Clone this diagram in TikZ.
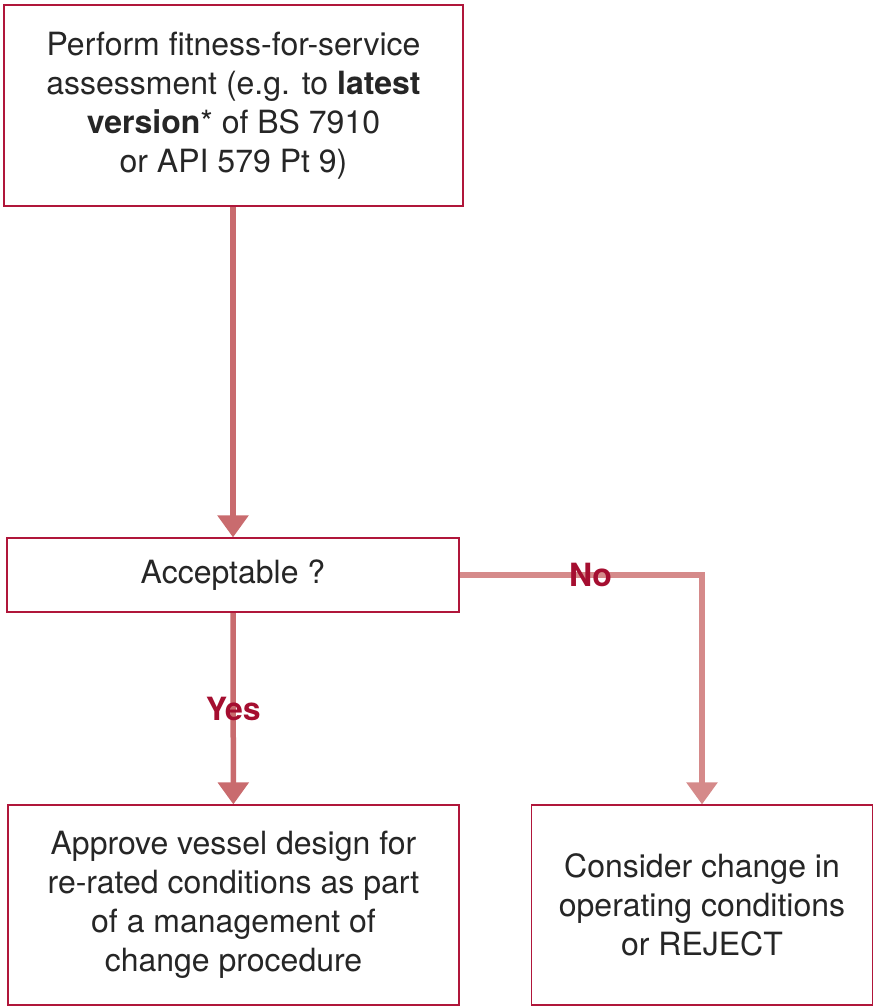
\documentclass[tikz,border=0pt]{standalone}
\usepackage{fontspec}
\setmainfont{TeX Gyre Heros}
\usetikzlibrary{arrows.meta}
\pgfdeclarelayer{edgelayer}
\pgfdeclarelayer{nodelayer}
\pgfsetlayers{edgelayer,nodelayer,main}
\definecolor{boxred}{HTML}{B0163A}
\definecolor{arrowred}{HTML}{C96B6E}
\definecolor{palered}{HTML}{D58A8A}
\definecolor{labelred}{HTML}{A50E30}
\tikzstyle{stage}=[rectangle,draw=boxred,line width=1.2pt,fill=white,align=center,inner sep=0pt,font=\fontsize{32}{39}\selectfont,text=black!85]
\tikzstyle{flow}=[-{Triangle[width=30pt,length=22pt]},draw=arrowred,line width=5.5pt]
\tikzstyle{answer}=[text=labelred,font=\fontsize{32}{34}\selectfont\bfseries]

\begin{document}
\begin{tikzpicture}[x=1pt,y=1pt]
	\useasboundingbox (0,0) rectangle (876,-1006);
	\begin{pgfonlayer}{nodelayer}
		\node [style=stage,minimum width=459pt,minimum height=201pt] (0) at (233.5,-105.5) {Perform fitness-for-service\\assessment (e.g. to \textbf{latest}\\\textbf{version}* of BS 7910\\or API 579 Pt 9)};
		\node [style=stage,minimum width=452pt,minimum height=74pt] (1) at (233,-575) {Acceptable ?};
		\node [style=stage,minimum width=451pt,minimum height=200pt] (2) at (233.5,-905) {Approve vessel design for\\re-rated conditions as part\\of a management of\\change procedure};
		\node [style=stage,minimum width=341pt,minimum height=200pt] (3) at (702,-905) {Consider change in\\operating conditions\\or REJECT};
	\end{pgfonlayer}
	\begin{pgfonlayer}{edgelayer}
		\draw [style=flow] (0.south -| 1.north) to (1.north);
		\draw [style=flow] (1) to node[pos=0.5,style=answer]{Yes} (2);
		\draw [style=flow,draw=palered] (1.east) -| node[pos=0.27,style=answer]{No} (3.north);
	\end{pgfonlayer}
\end{tikzpicture}
\end{document}
